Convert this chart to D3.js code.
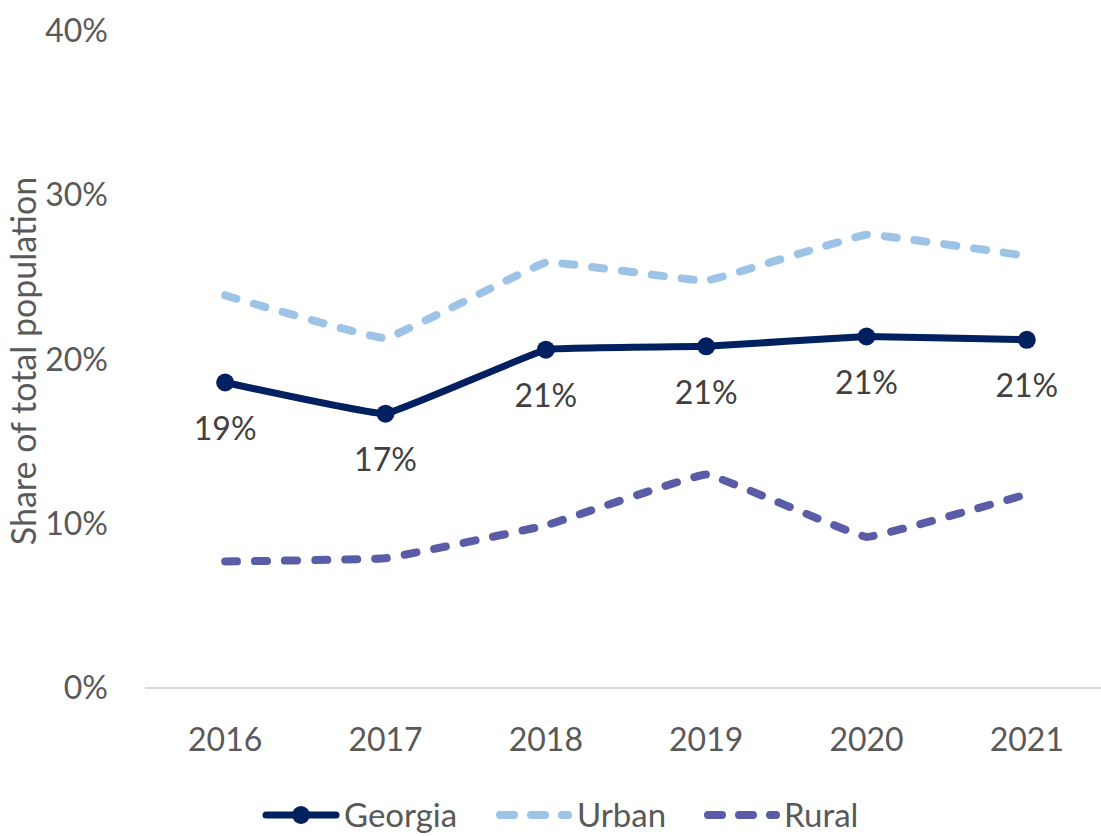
<!DOCTYPE html>
<html>
<head>
<meta charset="utf-8">
<script src="https://cdn.jsdelivr.net/npm/d3@7"></script>
<style>
  body { margin: 0; background: #fff; }
  text { font-family: Lato, "Open Sans", sans-serif; }
</style>
</head>
<body>
<div id="chart"></div>
<script>
const years = ['2016', '2017', '2018', '2019', '2020', '2021'];
const georgia = [0.186, 0.167, 0.206, 0.208, 0.214, 0.212];
const urban = [0.239, 0.213, 0.259, 0.248, 0.276, 0.263];
const rural = [0.077, 0.079, 0.099, 0.130, 0.092, 0.118];
const labels = ['19%', '17%', '21%', '21%', '21%', '21%'];
const yTicks = [0, 0.1, 0.2, 0.3, 0.4];

const width = 1101, height = 836;

const series = [
  { name: 'Georgia', values: georgia, color: '#002060', dash: null, marker: true },
  { name: 'Urban', values: urban, color: '#9dc3e6', dash: '12,18', marker: false },
  { name: 'Rural', values: rural, color: '#5b5ca8', dash: '12,18', marker: false }
];

const x = d3.scaleBand()
  .domain(years)
  .range([145, 1107]);

const y = d3.scaleLinear()
  .domain([0, 0.4])
  .range([688, 31]);

const svg = d3.select('#chart')
  .append('svg')
  .attr('width', width)
  .attr('height', height);

// y tick labels
svg.append('g')
  .selectAll('text')
  .data(yTicks)
  .enter().append('text')
  .attr('x', 108)
  .attr('y', d => y(d))
  .attr('dy', '0.35em')
  .attr('text-anchor', 'end')
  .style('font-size', '32px')
  .style('fill', '#595959')
  .text(d3.format('.0%'));

// axis title
svg.append('text')
  .attr('transform', 'translate(36,361) rotate(-90)')
  .attr('text-anchor', 'middle')
  .style('font-size', '34px')
  .style('fill', '#595959')
  .text('Share of total population');

// x axis line
svg.append('line')
  .attr('x1', 145).attr('x2', 1101)
  .attr('y1', y(0)).attr('y2', y(0))
  .style('stroke', '#d9d9d9')
  .style('stroke-width', 2);

// x labels
svg.append('g')
  .selectAll('text')
  .data(years)
  .enter().append('text')
  .attr('x', d => x(d) + x.bandwidth() / 2)
  .attr('y', 740)
  .attr('dy', '0.35em')
  .attr('text-anchor', 'middle')
  .style('font-size', '32px')
  .style('fill', '#595959')
  .text(d => d);

const line = d3.line()
  .x((d, i) => x(years[i]) + x.bandwidth() / 2)
  .y(d => y(d))
  .curve(d3.curveCardinal.tension(0.8));

// draw rural and urban first, georgia on top
series.slice().reverse().forEach(function(s) {
  svg.append('path')
    .datum(s.values)
    .attr('d', line)
    .style('fill', 'none')
    .style('stroke', s.color)
    .style('stroke-width', s.marker ? 7 : 8)
    .style('stroke-linecap', 'round')
    .style('stroke-linejoin', 'round')
    .style('stroke-dasharray', s.dash);

  if (s.marker) {
    svg.append('g')
      .selectAll('circle')
      .data(s.values)
      .enter().append('circle')
      .attr('cx', (d, i) => x(years[i]) + x.bandwidth() / 2)
      .attr('cy', d => y(d))
      .attr('r', 9)
      .style('fill', s.color);
  }
});

// data labels for georgia
svg.append('g')
  .selectAll('text')
  .data(georgia)
  .enter().append('text')
  .attr('x', (d, i) => x(years[i]) + x.bandwidth() / 2)
  .attr('y', d => y(d) + 46)
  .attr('dy', '0.35em')
  .attr('text-anchor', 'middle')
  .style('font-size', '32px')
  .style('fill', '#404040')
  .text((d, i) => labels[i]);

// legend
const legendItems = [
  { s: series[0], x0: 266, x1: 336, tx: 344 },
  { s: series[1], x0: 500, x1: 568, tx: 577 },
  { s: series[2], x0: 708, x1: 776, tx: 784 }
];
const legendY = 815;

legendItems.forEach(function(item) {
  const g = svg.append('g');
  g.append('line')
    .attr('x1', item.x0).attr('x2', item.x1)
    .attr('y1', legendY).attr('y2', legendY)
    .style('stroke', item.s.color)
    .style('stroke-width', item.s.marker ? 7 : 8)
    .style('stroke-linecap', 'round')
    .style('stroke-dasharray', item.s.marker ? null : '14,17');
  if (item.s.marker) {
    g.append('circle')
      .attr('cx', (item.x0 + item.x1) / 2)
      .attr('cy', legendY)
      .attr('r', 9)
      .style('fill', item.s.color);
  }
  g.append('text')
    .attr('x', item.tx)
    .attr('y', legendY)
    .attr('dy', '0.35em')
    .style('font-size', '33px')
    .style('fill', '#595959')
    .text(item.s.name);
});
</script>
</body>
</html>
